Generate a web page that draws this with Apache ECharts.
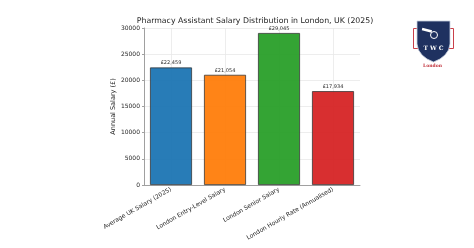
<!DOCTYPE html>
<html>
<head>
<meta charset="utf-8">
<script src="https://cdn.jsdelivr.net/npm/echarts@6/dist/echarts.min.js"></script>
<style>
    html, body { margin: 0; padding: 0; background: #fff; }
    #chart { width: 474px; height: 248px; }
</style>
</head>
<body>
<div id="chart"></div>
<script>
// Chart data
// ------------------------------

var categories = [
    'Average UK Salary (2025)',
    'London Entry-Level Salary',
    'London Senior Salary',
    'London Hourly Rate (Annualised)'
];
var salaries = [22459, 21054, 29045, 17934];
var barColors = ['#1f77b4', '#ff7f0e', '#2ca02c', '#d62728'];
var yTicks = [0, 5000, 10000, 15000, 20000, 25000, 30000];


// Setup chart
// ------------------------------

var chartElement = document.getElementById('chart');
var chart = echarts.init(chartElement, null, { renderer: 'canvas' });

var fontFamily = '"DejaVu Sans", sans-serif';

chart.setOption({

    animation: false,

    textStyle: {
        fontFamily: fontFamily
    },

    // Title
    title: {
        text: 'Pharmacy Assistant Salary Distribution in London, UK (2025)',
        left: 250,
        top: 12,
        textAlign: 'center',
        textStyle: {
            fontFamily: fontFamily,
            fontSize: 7.8,
            fontWeight: 'normal',
            color: '#262626'
        }
    },

    // Grid
    grid: {
        left: 144,
        right: 114,
        top: 28,
        bottom: 63,
        containLabel: false
    },

    // Horizontal axis
    xAxis: {
        type: 'category',
        data: categories,
        axisLine: {
            lineStyle: { color: '#a0a0a0', width: 1 }
        },
        axisTick: { show: false },
        axisLabel: {
            rotate: 30,
            interval: 0,
            margin: 4,
            fontSize: 6,
            color: '#262626',
            fontFamily: fontFamily
        },
        splitLine: {
            show: true,
            alignWithLabel: true,
            lineStyle: { color: '#e8e8e8', width: 0.8 }
        }
    },

    // Vertical axis
    yAxis: {
        type: 'value',
        min: yTicks[0],
        max: yTicks[yTicks.length - 1],
        interval: 5000,
        name: 'Annual Salary (£)',
        nameLocation: 'middle',
        nameGap: 17,
        nameTextStyle: {
            fontSize: 6.5,
            color: '#262626',
            fontFamily: fontFamily
        },
        axisLine: {
            show: true,
            lineStyle: { color: '#a0a0a0', width: 1 }
        },
        axisTick: {
            show: true,
            length: 2,
            lineStyle: { color: '#a0a0a0' }
        },
        axisLabel: {
            fontSize: 6,
            margin: 4,
            color: '#262626',
            fontFamily: fontFamily,
            formatter: function(v) {
                return String(v);
            }
        },
        splitLine: {
            lineStyle: { color: '#e8e8e8', width: 0.8 }
        }
    },

    // Series
    series: [{
        type: 'bar',
        barWidth: 42,
        data: salaries.map(function(v, i) {
            return {
                value: v,
                itemStyle: { color: barColors[i] }
            };
        }),
        itemStyle: {
            opacity: 0.96,
            borderColor: '#333',
            borderWidth: 0.8
        },
        label: {
            show: true,
            position: 'top',
            distance: 2,
            fontSize: 5,
            color: '#262626',
            fontFamily: fontFamily,
            formatter: function(p) {
                return '£' + p.value.toLocaleString('en-GB');
            }
        }
    }],

    // Logo (top right)
    graphic: [
        {
            type: 'rect',
            shape: { x: 413.5, y: 28.5, width: 40, height: 20 },
            style: { fill: 'none', stroke: '#c9404a', lineWidth: 1 }
        },
        {
            type: 'polygon',
            shape: {
                points: [
                    [417, 21], [450, 21], [450, 44], [448.5, 50], [445, 55],
                    [440, 59], [433.5, 62], [427, 59], [422, 55], [418.5, 50], [417, 44]
                ]
            },
            style: { fill: '#1f3160', stroke: '#c9d0e0', lineWidth: 0.8 }
        },
        {
            type: 'circle',
            shape: { cx: 434, cy: 35, r: 3.5 },
            style: { fill: 'none', stroke: '#ffffff', lineWidth: 1 }
        },
        {
            type: 'rect',
            shape: { x: 422, y: 29, width: 10, height: 2.5 },
            rotation: -0.25,
            originX: 427,
            originY: 30,
            style: { fill: '#ffffff' }
        },
        {
            type: 'text',
            style: {
                text: 'T W C',
                x: 433.5,
                y: 48,
                align: 'center',
                verticalAlign: 'middle',
                fill: '#ffffff',
                font: 'bold 6px "DejaVu Serif", serif'
            }
        },
        {
            type: 'text',
            style: {
                text: 'London',
                x: 432.5,
                y: 66,
                align: 'center',
                verticalAlign: 'middle',
                fill: '#c0303a',
                font: 'bold 4.5px "DejaVu Serif", serif'
            }
        }
    ]
});
</script>
</body>
</html>
